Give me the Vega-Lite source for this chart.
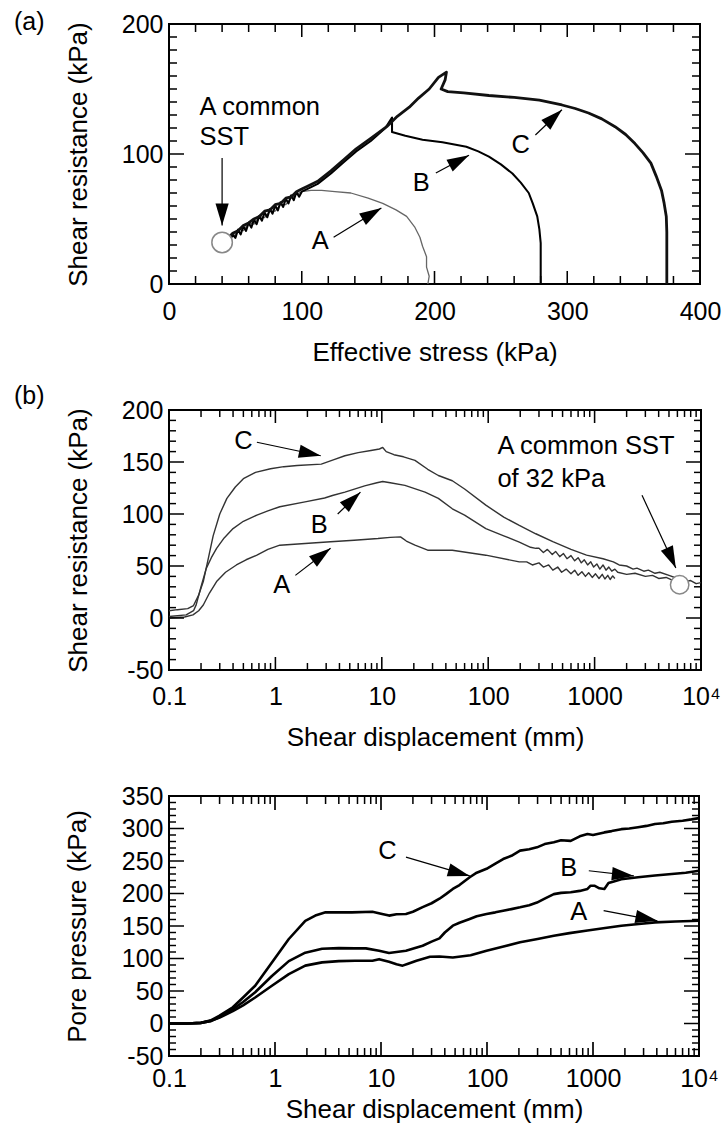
{
  "$schema": "https://vega.github.io/schema/vega-lite/v6.json",
  "background": "white",
  "padding": {"left": 13, "top": 8, "right": 5, "bottom": 5},
  "config": {
    "font": "Liberation Sans",
    "view": {"stroke": "#000", "strokeWidth": 2},
    "axis": {
      "domain": false, "grid": false, "ticks": false,
      "labelFont": "Liberation Sans", "labelFontSize": 25, "labelColor": "#000",
      "titleFont": "Liberation Sans", "titleFontSize": 26, "titleFontWeight": "normal", "titleColor": "#000",
      "labelOverlap": false, "labelFlush": false, "labelBound": false
    },
    "point": {"filled": true, "color": "#000", "opacity": 1, "strokeWidth": 0},
    "title": {"font": "Liberation Sans", "fontSize": 25, "fontWeight": "normal", "color": "#000", "anchor": "start", "frame": "group", "baseline": "alphabetic"},
    "text": {"font": "Liberation Sans", "fontSize": 25.5, "color": "#000"}
  },
  "datasets": {
    "aXMajor": [{"v": 0, "lo": 0, "hi": 200}, {"v": 100, "lo": 0, "hi": 200}, {"v": 200, "lo": 0, "hi": 200}, {"v": 300, "lo": 0, "hi": 200}, {"v": 400, "lo": 0, "hi": 200}],
    "aXMinor": [{"v": 20, "lo": 0, "hi": 200}, {"v": 40, "lo": 0, "hi": 200}, {"v": 60, "lo": 0, "hi": 200}, {"v": 80, "lo": 0, "hi": 200},
      {"v": 120, "lo": 0, "hi": 200}, {"v": 140, "lo": 0, "hi": 200}, {"v": 160, "lo": 0, "hi": 200}, {"v": 180, "lo": 0, "hi": 200},
      {"v": 220, "lo": 0, "hi": 200}, {"v": 240, "lo": 0, "hi": 200}, {"v": 260, "lo": 0, "hi": 200}, {"v": 280, "lo": 0, "hi": 200},
      {"v": 320, "lo": 0, "hi": 200}, {"v": 340, "lo": 0, "hi": 200}, {"v": 360, "lo": 0, "hi": 200}, {"v": 380, "lo": 0, "hi": 200}],
    "aYMajor": [{"v": 0, "lo": 0, "hi": 400}, {"v": 100, "lo": 0, "hi": 400}, {"v": 200, "lo": 0, "hi": 400}],
    "aYMinor": [{"v": 10, "lo": 0, "hi": 400}, {"v": 20, "lo": 0, "hi": 400}, {"v": 30, "lo": 0, "hi": 400}, {"v": 40, "lo": 0, "hi": 400},
      {"v": 50, "lo": 0, "hi": 400}, {"v": 60, "lo": 0, "hi": 400}, {"v": 70, "lo": 0, "hi": 400}, {"v": 80, "lo": 0, "hi": 400},
      {"v": 90, "lo": 0, "hi": 400}, {"v": 110, "lo": 0, "hi": 400}, {"v": 120, "lo": 0, "hi": 400}, {"v": 130, "lo": 0, "hi": 400},
      {"v": 140, "lo": 0, "hi": 400}, {"v": 150, "lo": 0, "hi": 400}, {"v": 160, "lo": 0, "hi": 400}, {"v": 170, "lo": 0, "hi": 400},
      {"v": 180, "lo": 0, "hi": 400}, {"v": 190, "lo": 0, "hi": 400}],
    "logMajor": [{"v": 0.1}, {"v": 1}, {"v": 10}, {"v": 100}, {"v": 1000}, {"v": 10000}],
    "logMinor": [{"v": 0.2}, {"v": 0.3}, {"v": 0.4}, {"v": 0.5}, {"v": 0.6}, {"v": 0.7}, {"v": 0.8}, {"v": 0.9},
      {"v": 2}, {"v": 3}, {"v": 4}, {"v": 5}, {"v": 6}, {"v": 7}, {"v": 8}, {"v": 9},
      {"v": 20}, {"v": 30}, {"v": 40}, {"v": 50}, {"v": 60}, {"v": 70}, {"v": 80}, {"v": 90},
      {"v": 200}, {"v": 300}, {"v": 400}, {"v": 500}, {"v": 600}, {"v": 700}, {"v": 800}, {"v": 900},
      {"v": 2000}, {"v": 3000}, {"v": 4000}, {"v": 5000}, {"v": 6000}, {"v": 7000}, {"v": 8000}, {"v": 9000}],
    "bYMajor": [{"v": -50}, {"v": 0}, {"v": 50}, {"v": 100}, {"v": 150}, {"v": 200}],
    "bYMinor": [{"v": -40}, {"v": -30}, {"v": -20}, {"v": -10}, {"v": 10}, {"v": 20}, {"v": 30}, {"v": 40}, {"v": 60}, {"v": 70}, {"v": 80}, {"v": 90}, {"v": 110}, {"v": 120}, {"v": 130}, {"v": 140}, {"v": 160}, {"v": 170}, {"v": 180}, {"v": 190}],
    "cYMajor": [{"v": -50}, {"v": 0}, {"v": 50}, {"v": 100}, {"v": 150}, {"v": 200}, {"v": 250}, {"v": 300}, {"v": 350}],
    "cYMinor": [{"v": -40}, {"v": -30}, {"v": -20}, {"v": -10}, {"v": 10}, {"v": 20}, {"v": 30}, {"v": 40}, {"v": 60}, {"v": 70}, {"v": 80}, {"v": 90}, {"v": 110}, {"v": 120}, {"v": 130}, {"v": 140}, {"v": 160}, {"v": 170}, {"v": 180}, {"v": 190}, {"v": 210}, {"v": 220}, {"v": 230}, {"v": 240}, {"v": 260}, {"v": 270}, {"v": 280}, {"v": 290}, {"v": 310}, {"v": 320}, {"v": 330}, {"v": 340}],
    "stressPath": [
      {"c": "A", "x": 195, "y": 0}, {"c": "A", "x": 196, "y": 6}, {"c": "A", "x": 194, "y": 13}, {"c": "A", "x": 194, "y": 21},
      {"c": "A", "x": 191, "y": 29}, {"c": "A", "x": 189, "y": 36}, {"c": "A", "x": 185, "y": 44}, {"c": "A", "x": 179, "y": 52},
      {"c": "A", "x": 171, "y": 57}, {"c": "A", "x": 161, "y": 62}, {"c": "A", "x": 150, "y": 66}, {"c": "A", "x": 137, "y": 70},
      {"c": "A", "x": 125, "y": 71}, {"c": "A", "x": 115, "y": 72}, {"c": "A", "x": 107, "y": 72}, {"c": "A", "x": 100, "y": 71},
      {"c": "A", "x": 96, "y": 69}, {"c": "A", "x": 92, "y": 66}, {"c": "A", "x": 88, "y": 61}, {"c": "A", "x": 84, "y": 61},
      {"c": "A", "x": 80, "y": 56}, {"c": "A", "x": 76, "y": 56}, {"c": "A", "x": 72, "y": 51}, {"c": "A", "x": 68, "y": 52},
      {"c": "A", "x": 64, "y": 46}, {"c": "A", "x": 60, "y": 47}, {"c": "A", "x": 56, "y": 41}, {"c": "A", "x": 53, "y": 42},
      {"c": "A", "x": 49, "y": 37}, {"c": "A", "x": 47, "y": 36},

      {"c": "B", "x": 280, "y": 0}, {"c": "B", "x": 280, "y": 10}, {"c": "B", "x": 280, "y": 20}, {"c": "B", "x": 280, "y": 31.5},
      {"c": "B", "x": 279, "y": 42}, {"c": "B", "x": 277.4, "y": 52}, {"c": "B", "x": 274, "y": 62}, {"c": "B", "x": 271, "y": 70},
      {"c": "B", "x": 265, "y": 78}, {"c": "B", "x": 258.7, "y": 85}, {"c": "B", "x": 250, "y": 92}, {"c": "B", "x": 241, "y": 98},
      {"c": "B", "x": 233, "y": 102}, {"c": "B", "x": 224, "y": 105.6}, {"c": "B", "x": 206, "y": 109}, {"c": "B", "x": 191, "y": 111},
      {"c": "B", "x": 178, "y": 114}, {"c": "B", "x": 168, "y": 117}, {"c": "B", "x": 168, "y": 128}, {"c": "B", "x": 163, "y": 120},
      {"c": "B", "x": 152, "y": 110}, {"c": "B", "x": 141, "y": 102}, {"c": "B", "x": 132, "y": 94}, {"c": "B", "x": 122, "y": 85},
      {"c": "B", "x": 112, "y": 77}, {"c": "B", "x": 104, "y": 73}, {"c": "B", "x": 100, "y": 71},
      {"c": "B", "x": 98, "y": 67.2}, {"c": "B", "x": 96, "y": 70.8}, {"c": "B", "x": 94, "y": 64.5}, {"c": "B", "x": 92, "y": 68.2},
      {"c": "B", "x": 90, "y": 61.9}, {"c": "B", "x": 88, "y": 65.6}, {"c": "B", "x": 86, "y": 59.2}, {"c": "B", "x": 84, "y": 62.9},
      {"c": "B", "x": 82, "y": 56.6}, {"c": "B", "x": 80, "y": 60.3}, {"c": "B", "x": 78, "y": 54}, {"c": "B", "x": 76, "y": 57.6},
      {"c": "B", "x": 74, "y": 51.3}, {"c": "B", "x": 72, "y": 55}, {"c": "B", "x": 70, "y": 48.7}, {"c": "B", "x": 68, "y": 52.4},
      {"c": "B", "x": 66, "y": 46}, {"c": "B", "x": 64, "y": 49.7}, {"c": "B", "x": 62, "y": 43.4}, {"c": "B", "x": 60, "y": 47.1},
      {"c": "B", "x": 58, "y": 40.8}, {"c": "B", "x": 56, "y": 44.4}, {"c": "B", "x": 54, "y": 38.1}, {"c": "B", "x": 52, "y": 41.8},
      {"c": "B", "x": 50, "y": 35.5}, {"c": "B", "x": 48, "y": 38}, {"c": "B", "x": 46, "y": 34},

      {"c": "C", "x": 375, "y": 0}, {"c": "C", "x": 375, "y": 14}, {"c": "C", "x": 375, "y": 26}, {"c": "C", "x": 375, "y": 40},
      {"c": "C", "x": 374.6, "y": 52}, {"c": "C", "x": 373, "y": 62}, {"c": "C", "x": 371, "y": 72}, {"c": "C", "x": 367, "y": 83},
      {"c": "C", "x": 363, "y": 93}, {"c": "C", "x": 357, "y": 101}, {"c": "C", "x": 351, "y": 108}, {"c": "C", "x": 344, "y": 115},
      {"c": "C", "x": 336, "y": 121}, {"c": "C", "x": 326, "y": 127}, {"c": "C", "x": 316, "y": 131.5}, {"c": "C", "x": 306, "y": 135},
      {"c": "C", "x": 296, "y": 137.7}, {"c": "C", "x": 279, "y": 141.5}, {"c": "C", "x": 260, "y": 143.5}, {"c": "C", "x": 241, "y": 145},
      {"c": "C", "x": 222, "y": 147}, {"c": "C", "x": 210, "y": 148}, {"c": "C", "x": 205, "y": 150}, {"c": "C", "x": 208, "y": 157},
      {"c": "C", "x": 209, "y": 163}, {"c": "C", "x": 203, "y": 159}, {"c": "C", "x": 196, "y": 150}, {"c": "C", "x": 188, "y": 143},
      {"c": "C", "x": 181, "y": 136}, {"c": "C", "x": 172, "y": 129}, {"c": "C", "x": 164, "y": 121}, {"c": "C", "x": 152, "y": 112},
      {"c": "C", "x": 141, "y": 104}, {"c": "C", "x": 132, "y": 96}, {"c": "C", "x": 122, "y": 87}, {"c": "C", "x": 112, "y": 79},
      {"c": "C", "x": 104, "y": 75}, {"c": "C", "x": 100, "y": 73}, {"c": "C", "x": 96, "y": 71}, {"c": "C", "x": 92, "y": 67},
      {"c": "C", "x": 88, "y": 66}, {"c": "C", "x": 84, "y": 62}, {"c": "C", "x": 80, "y": 61}, {"c": "C", "x": 76, "y": 57},
      {"c": "C", "x": 72, "y": 56}, {"c": "C", "x": 68, "y": 52}, {"c": "C", "x": 64, "y": 50}, {"c": "C", "x": 60, "y": 47},
      {"c": "C", "x": 56, "y": 45}, {"c": "C", "x": 52, "y": 41}, {"c": "C", "x": 48, "y": 39}, {"c": "C", "x": 46, "y": 37}
    ],
    "arrowsA": [
      {"k": "A", "x0": 124, "y0": 36, "x1": 160, "y1": 58.5},
      {"k": "B", "x0": 201, "y0": 85.4, "x1": 226, "y1": 99},
      {"k": "C", "x0": 276, "y0": 114.6, "x1": 296, "y1": 134},
      {"k": "S", "x0": 40, "y0": 97, "x1": 40, "y1": 45}
    ],
    "resistance": [
      {"c": "C", "d": 0.1, "v": 7}, {"c": "C", "d": 0.12, "v": 8}, {"c": "C", "d": 0.15, "v": 9}, {"c": "C", "d": 0.17, "v": 12},
      {"c": "C", "d": 0.19, "v": 22}, {"c": "C", "d": 0.21, "v": 35}, {"c": "C", "d": 0.235, "v": 58}, {"c": "C", "d": 0.26, "v": 79},
      {"c": "C", "d": 0.3, "v": 100}, {"c": "C", "d": 0.35, "v": 115}, {"c": "C", "d": 0.42, "v": 126}, {"c": "C", "d": 0.5, "v": 134},
      {"c": "C", "d": 0.65, "v": 140}, {"c": "C", "d": 0.9, "v": 143.5}, {"c": "C", "d": 1.2, "v": 145.5}, {"c": "C", "d": 1.6, "v": 146.7},
      {"c": "C", "d": 2.7, "v": 148}, {"c": "C", "d": 3.5, "v": 152}, {"c": "C", "d": 4.5, "v": 156}, {"c": "C", "d": 6, "v": 159},
      {"c": "C", "d": 7.9, "v": 161}, {"c": "C", "d": 9.5, "v": 162.5}, {"c": "C", "d": 10.2, "v": 164}, {"c": "C", "d": 11, "v": 160},
      {"c": "C", "d": 13, "v": 157}, {"c": "C", "d": 16, "v": 155}, {"c": "C", "d": 20.5, "v": 151.5}, {"c": "C", "d": 27, "v": 143},
      {"c": "C", "d": 34, "v": 137}, {"c": "C", "d": 46, "v": 132}, {"c": "C", "d": 60, "v": 124}, {"c": "C", "d": 95, "v": 108.5},
      {"c": "C", "d": 140, "v": 97}, {"c": "C", "d": 196, "v": 89}, {"c": "C", "d": 280, "v": 81}, {"c": "C", "d": 405, "v": 73.5},
      {"c": "C", "d": 600, "v": 66}, {"c": "C", "d": 840, "v": 60.5}, {"c": "C", "d": 1200, "v": 57}, {"c": "C", "d": 1500, "v": 54},
      {"c": "C", "d": 1700, "v": 51}, {"c": "C", "d": 2000, "v": 50}, {"c": "C", "d": 2300, "v": 47}, {"c": "C", "d": 2500, "v": 48},
      {"c": "C", "d": 2900, "v": 45}, {"c": "C", "d": 3200, "v": 46}, {"c": "C", "d": 3700, "v": 43}, {"c": "C", "d": 4100, "v": 44},
      {"c": "C", "d": 5000, "v": 41}, {"c": "C", "d": 6000, "v": 38}, {"c": "C", "d": 7000, "v": 35}, {"c": "C", "d": 8000, "v": 36},
      {"c": "C", "d": 9000, "v": 33}, {"c": "C", "d": 10000, "v": 34},

      {"c": "B", "d": 0.1, "v": 1.5}, {"c": "B", "d": 0.145, "v": 3}, {"c": "B", "d": 0.17, "v": 7}, {"c": "B", "d": 0.18, "v": 12.6},
      {"c": "B", "d": 0.2, "v": 30}, {"c": "B", "d": 0.224, "v": 47.7}, {"c": "B", "d": 0.25, "v": 58}, {"c": "B", "d": 0.28, "v": 67},
      {"c": "B", "d": 0.33, "v": 77}, {"c": "B", "d": 0.4, "v": 86}, {"c": "B", "d": 0.5, "v": 93}, {"c": "B", "d": 0.67, "v": 99},
      {"c": "B", "d": 0.85, "v": 103}, {"c": "B", "d": 1.1, "v": 107}, {"c": "B", "d": 1.9, "v": 111.6}, {"c": "B", "d": 2.9, "v": 115.4},
      {"c": "B", "d": 3.5, "v": 118}, {"c": "B", "d": 4.5, "v": 121}, {"c": "B", "d": 6.9, "v": 127}, {"c": "B", "d": 9, "v": 130},
      {"c": "B", "d": 10.2, "v": 131.3}, {"c": "B", "d": 12, "v": 130}, {"c": "B", "d": 16.5, "v": 127.5}, {"c": "B", "d": 25.5, "v": 121},
      {"c": "B", "d": 34, "v": 115}, {"c": "B", "d": 46, "v": 105}, {"c": "B", "d": 60, "v": 99}, {"c": "B", "d": 95, "v": 86},
      {"c": "B", "d": 140, "v": 79}, {"c": "B", "d": 196, "v": 73}, {"c": "B", "d": 250, "v": 68}, {"c": "B", "d": 280, "v": 67},
      {"c": "B", "d": 300, "v": 67}, {"c": "B", "d": 330, "v": 63}, {"c": "B", "d": 360, "v": 66}, {"c": "B", "d": 400, "v": 61},
      {"c": "B", "d": 430, "v": 64}, {"c": "B", "d": 470, "v": 59}, {"c": "B", "d": 510, "v": 62}, {"c": "B", "d": 550, "v": 57},
      {"c": "B", "d": 600, "v": 60}, {"c": "B", "d": 650, "v": 55}, {"c": "B", "d": 700, "v": 58}, {"c": "B", "d": 750, "v": 53},
      {"c": "B", "d": 800, "v": 56}, {"c": "B", "d": 860, "v": 51}, {"c": "B", "d": 920, "v": 54}, {"c": "B", "d": 980, "v": 49},
      {"c": "B", "d": 1050, "v": 52}, {"c": "B", "d": 1120, "v": 47}, {"c": "B", "d": 1200, "v": 51}, {"c": "B", "d": 1280, "v": 46},
      {"c": "B", "d": 1360, "v": 49}, {"c": "B", "d": 1450, "v": 45}, {"c": "B", "d": 1550, "v": 47}, {"c": "B", "d": 1650, "v": 44},
      {"c": "B", "d": 2000, "v": 42}, {"c": "B", "d": 2400, "v": 43}, {"c": "B", "d": 3000, "v": 40}, {"c": "B", "d": 3500, "v": 41},
      {"c": "B", "d": 4000, "v": 38}, {"c": "B", "d": 4700, "v": 39}, {"c": "B", "d": 5500, "v": 36},

      {"c": "A", "d": 0.1, "v": 0}, {"c": "A", "d": 0.14, "v": 1}, {"c": "A", "d": 0.168, "v": 3}, {"c": "A", "d": 0.19, "v": 7},
      {"c": "A", "d": 0.21, "v": 12.5}, {"c": "A", "d": 0.24, "v": 24}, {"c": "A", "d": 0.28, "v": 35}, {"c": "A", "d": 0.34, "v": 44},
      {"c": "A", "d": 0.43, "v": 51}, {"c": "A", "d": 0.53, "v": 56}, {"c": "A", "d": 0.67, "v": 60.4}, {"c": "A", "d": 0.85, "v": 66},
      {"c": "A", "d": 1.1, "v": 70}, {"c": "A", "d": 1.9, "v": 71.6}, {"c": "A", "d": 3.3, "v": 73.3}, {"c": "A", "d": 5.5, "v": 74.8},
      {"c": "A", "d": 9.2, "v": 76.4}, {"c": "A", "d": 12, "v": 77.5}, {"c": "A", "d": 15, "v": 78}, {"c": "A", "d": 17, "v": 74},
      {"c": "A", "d": 20.5, "v": 70}, {"c": "A", "d": 27, "v": 65.2}, {"c": "A", "d": 46, "v": 65.2}, {"c": "A", "d": 95, "v": 60.4},
      {"c": "A", "d": 196, "v": 54}, {"c": "A", "d": 230, "v": 54}, {"c": "A", "d": 260, "v": 51}, {"c": "A", "d": 300, "v": 53},
      {"c": "A", "d": 330, "v": 49}, {"c": "A", "d": 370, "v": 51}, {"c": "A", "d": 405, "v": 46}, {"c": "A", "d": 450, "v": 49},
      {"c": "A", "d": 490, "v": 44}, {"c": "A", "d": 540, "v": 47}, {"c": "A", "d": 600, "v": 42.5}, {"c": "A", "d": 650, "v": 46},
      {"c": "A", "d": 700, "v": 41}, {"c": "A", "d": 760, "v": 44.5}, {"c": "A", "d": 820, "v": 40}, {"c": "A", "d": 880, "v": 43.5},
      {"c": "A", "d": 950, "v": 39}, {"c": "A", "d": 1020, "v": 42.5}, {"c": "A", "d": 1100, "v": 38}, {"c": "A", "d": 1180, "v": 42},
      {"c": "A", "d": 1250, "v": 37.5}, {"c": "A", "d": 1330, "v": 41}, {"c": "A", "d": 1400, "v": 37}, {"c": "A", "d": 1480, "v": 40.5},
      {"c": "A", "d": 1550, "v": 38}
    ],
    "arrowsB": [
      {"k": "C", "x0": 0.67, "y0": 169, "x1": 2.67, "y1": 156},
      {"k": "B", "x0": 3.85, "y0": 100, "x1": 6.3, "y1": 121},
      {"k": "A", "x0": 1.54, "y0": 41, "x1": 3.3, "y1": 67},
      {"k": "S", "x0": 2790, "y0": 118, "x1": 5800, "y1": 48}
    ],
    "pore": [
      {"c": "C", "d": 0.1, "p": 0}, {"c": "C", "d": 0.15, "p": 0}, {"c": "C", "d": 0.2, "p": 1}, {"c": "C", "d": 0.25, "p": 5},
      {"c": "C", "d": 0.3, "p": 12}, {"c": "C", "d": 0.4, "p": 25}, {"c": "C", "d": 0.5, "p": 40}, {"c": "C", "d": 0.65, "p": 58},
      {"c": "C", "d": 0.935, "p": 94}, {"c": "C", "d": 1.35, "p": 130}, {"c": "C", "d": 1.93, "p": 158}, {"c": "C", "d": 2.4, "p": 166},
      {"c": "C", "d": 3, "p": 171}, {"c": "C", "d": 4, "p": 171}, {"c": "C", "d": 5.3, "p": 171}, {"c": "C", "d": 8.3, "p": 172},
      {"c": "C", "d": 10, "p": 169}, {"c": "C", "d": 11.9, "p": 166}, {"c": "C", "d": 14, "p": 168}, {"c": "C", "d": 17.2, "p": 168.5},
      {"c": "C", "d": 20, "p": 172}, {"c": "C", "d": 24.7, "p": 179}, {"c": "C", "d": 30, "p": 185}, {"c": "C", "d": 35.6, "p": 192},
      {"c": "C", "d": 41, "p": 199}, {"c": "C", "d": 47.6, "p": 207}, {"c": "C", "d": 55, "p": 213}, {"c": "C", "d": 68.7, "p": 225},
      {"c": "C", "d": 80, "p": 232}, {"c": "C", "d": 99, "p": 238}, {"c": "C", "d": 120, "p": 246}, {"c": "C", "d": 142, "p": 253},
      {"c": "C", "d": 170, "p": 258}, {"c": "C", "d": 205, "p": 266}, {"c": "C", "d": 250, "p": 268}, {"c": "C", "d": 296, "p": 271},
      {"c": "C", "d": 350, "p": 276}, {"c": "C", "d": 427, "p": 279}, {"c": "C", "d": 500, "p": 282}, {"c": "C", "d": 616, "p": 281},
      {"c": "C", "d": 750, "p": 288}, {"c": "C", "d": 887, "p": 291.5}, {"c": "C", "d": 1000, "p": 290}, {"c": "C", "d": 1280, "p": 294},
      {"c": "C", "d": 1500, "p": 296}, {"c": "C", "d": 1850, "p": 299}, {"c": "C", "d": 2200, "p": 300}, {"c": "C", "d": 2660, "p": 302},
      {"c": "C", "d": 3200, "p": 304}, {"c": "C", "d": 3840, "p": 307}, {"c": "C", "d": 4600, "p": 308}, {"c": "C", "d": 5530, "p": 310.5},
      {"c": "C", "d": 7000, "p": 312}, {"c": "C", "d": 8500, "p": 314}, {"c": "C", "d": 10000, "p": 316},

      {"c": "B", "d": 0.1, "p": 0}, {"c": "B", "d": 0.15, "p": 0}, {"c": "B", "d": 0.2, "p": 1}, {"c": "B", "d": 0.25, "p": 4},
      {"c": "B", "d": 0.3, "p": 10}, {"c": "B", "d": 0.4, "p": 22}, {"c": "B", "d": 0.5, "p": 33}, {"c": "B", "d": 0.65, "p": 48},
      {"c": "B", "d": 0.935, "p": 73}, {"c": "B", "d": 1.35, "p": 96}, {"c": "B", "d": 1.93, "p": 109}, {"c": "B", "d": 2.78, "p": 115},
      {"c": "B", "d": 4, "p": 116}, {"c": "B", "d": 5.7, "p": 115.6}, {"c": "B", "d": 7.2, "p": 115.6}, {"c": "B", "d": 9.6, "p": 112},
      {"c": "B", "d": 11.9, "p": 108.5}, {"c": "B", "d": 14, "p": 110}, {"c": "B", "d": 17.2, "p": 112}, {"c": "B", "d": 24.7, "p": 119.7},
      {"c": "B", "d": 30, "p": 126}, {"c": "B", "d": 35.6, "p": 131}, {"c": "B", "d": 40, "p": 140}, {"c": "B", "d": 47.6, "p": 150.5},
      {"c": "B", "d": 55, "p": 155}, {"c": "B", "d": 68.7, "p": 160.8}, {"c": "B", "d": 80, "p": 165}, {"c": "B", "d": 99, "p": 168.5},
      {"c": "B", "d": 120, "p": 171}, {"c": "B", "d": 142, "p": 173.6}, {"c": "B", "d": 170, "p": 176}, {"c": "B", "d": 205, "p": 178.7},
      {"c": "B", "d": 250, "p": 182}, {"c": "B", "d": 296, "p": 186}, {"c": "B", "d": 350, "p": 192}, {"c": "B", "d": 427, "p": 199},
      {"c": "B", "d": 500, "p": 201}, {"c": "B", "d": 616, "p": 202}, {"c": "B", "d": 750, "p": 204}, {"c": "B", "d": 887, "p": 207},
      {"c": "B", "d": 950, "p": 212}, {"c": "B", "d": 1030, "p": 212}, {"c": "B", "d": 1150, "p": 208}, {"c": "B", "d": 1280, "p": 207},
      {"c": "B", "d": 1400, "p": 216}, {"c": "B", "d": 1600, "p": 219}, {"c": "B", "d": 1850, "p": 222}, {"c": "B", "d": 2660, "p": 225},
      {"c": "B", "d": 3840, "p": 227.6}, {"c": "B", "d": 5530, "p": 230}, {"c": "B", "d": 7500, "p": 232}, {"c": "B", "d": 10000, "p": 235},

      {"c": "A", "d": 0.1, "p": 0}, {"c": "A", "d": 0.15, "p": 0}, {"c": "A", "d": 0.2, "p": 1}, {"c": "A", "d": 0.25, "p": 4},
      {"c": "A", "d": 0.3, "p": 9}, {"c": "A", "d": 0.4, "p": 19}, {"c": "A", "d": 0.5, "p": 28}, {"c": "A", "d": 0.65, "p": 40},
      {"c": "A", "d": 0.935, "p": 58}, {"c": "A", "d": 1.35, "p": 76}, {"c": "A", "d": 1.93, "p": 89}, {"c": "A", "d": 2.78, "p": 94},
      {"c": "A", "d": 4, "p": 96}, {"c": "A", "d": 5.7, "p": 96.6}, {"c": "A", "d": 8.3, "p": 96.6}, {"c": "A", "d": 9.6, "p": 99},
      {"c": "A", "d": 11.9, "p": 95}, {"c": "A", "d": 14, "p": 91}, {"c": "A", "d": 16, "p": 89}, {"c": "A", "d": 18, "p": 92},
      {"c": "A", "d": 21.6, "p": 96.6}, {"c": "A", "d": 29, "p": 102.7}, {"c": "A", "d": 35.6, "p": 103}, {"c": "A", "d": 47.6, "p": 101.6},
      {"c": "A", "d": 70, "p": 105}, {"c": "A", "d": 99, "p": 112}, {"c": "A", "d": 140, "p": 118}, {"c": "A", "d": 205, "p": 125},
      {"c": "A", "d": 300, "p": 130}, {"c": "A", "d": 427, "p": 135}, {"c": "A", "d": 600, "p": 139}, {"c": "A", "d": 887, "p": 143},
      {"c": "A", "d": 1300, "p": 147}, {"c": "A", "d": 1850, "p": 150.5}, {"c": "A", "d": 2700, "p": 153}, {"c": "A", "d": 3840, "p": 155.6},
      {"c": "A", "d": 6000, "p": 157}, {"c": "A", "d": 10000, "p": 158}
    ],
    "arrowsC": [
      {"k": "C", "x0": 17.2, "y0": 256, "x1": 68.7, "y1": 227},
      {"k": "B", "x0": 913, "y0": 235, "x1": 2430, "y1": 227},
      {"k": "A", "x0": 1260, "y0": 173.6, "x1": 4050, "y1": 158}
    ]
  },
  "spacing": 126,
  "bounds": "flush",
  "vconcat": [
    {
      "width": 531,
      "height": 260,
      "title": {"text": "(a)", "dx": -155, "offset": -22.5},
      "resolve": {"axis": {"x": "independent", "y": "independent"}},
      "layer": [
        {
          "data": {"name": "stressPath"},
          "mark": {"type": "line", "strokeJoin": "round"},
          "encoding": {
            "x": {"field": "x", "type": "quantitative", "scale": {"domain": [0, 400], "nice": false},
              "axis": {"orient": "bottom", "title": "Effective stress (kPa)", "values": [0, 100, 200, 300, 400], "labelOverlap": false, "labelPadding": 15, "titlePadding": 15}},
            "y": {"field": "y", "type": "quantitative", "scale": {"domain": [0, 200], "nice": false},
              "axis": {"orient": "left", "title": "Shear resistance (kPa)", "values": [0, 100, 200], "labelOverlap": false, "labelPadding": 6, "titlePadding": 30}},
            "color": {"field": "c", "type": "nominal", "scale": {"domain": ["A", "B", "C"], "range": ["#666", "#000", "#111"]}, "legend": null},
            "strokeWidth": {"field": "c", "type": "nominal", "scale": {"domain": ["A", "B", "C"], "range": [1.3, 2.8, 2.2]}, "legend": null},
            "order": {"value": null}
          }
        },
        {"data": {"name": "aXMajor"}, "mark": {"type": "point", "shape": "M-0.12,0L0.12,0L0.12,-2L-0.12,-2Z", "size": 169},
          "encoding": {"x": {"field": "v", "type": "quantitative", "axis": null}, "y": {"field": "lo", "type": "quantitative", "axis": null}}},
        {"data": {"name": "aXMajor"}, "mark": {"type": "point", "shape": "M-0.12,0L0.12,0L0.12,2L-0.12,2Z", "size": 169},
          "encoding": {"x": {"field": "v", "type": "quantitative", "axis": null}, "y": {"field": "hi", "type": "quantitative", "axis": null}}},
        {"data": {"name": "aXMinor"}, "mark": {"type": "point", "shape": "M-0.19,0L0.19,0L0.19,-2L-0.19,-2Z", "size": 64},
          "encoding": {"x": {"field": "v", "type": "quantitative", "axis": null}, "y": {"field": "lo", "type": "quantitative", "axis": null}}},
        {"data": {"name": "aXMinor"}, "mark": {"type": "point", "shape": "M-0.19,0L0.19,0L0.19,2L-0.19,2Z", "size": 64},
          "encoding": {"x": {"field": "v", "type": "quantitative", "axis": null}, "y": {"field": "hi", "type": "quantitative", "axis": null}}},
        {"data": {"name": "aYMajor"}, "mark": {"type": "point", "shape": "M0,-0.1L2,-0.1L2,0.1L0,0.1Z", "size": 225},
          "encoding": {"y": {"field": "v", "type": "quantitative", "axis": null}, "x": {"field": "lo", "type": "quantitative", "axis": null}}},
        {"data": {"name": "aYMajor"}, "mark": {"type": "point", "shape": "M0,-0.1L-2,-0.1L-2,0.1L0,0.1Z", "size": 225},
          "encoding": {"y": {"field": "v", "type": "quantitative", "axis": null}, "x": {"field": "hi", "type": "quantitative", "axis": null}}},
        {"data": {"name": "aYMinor"}, "mark": {"type": "point", "shape": "M0,-0.19L2,-0.19L2,0.19L0,0.19Z", "size": 64},
          "encoding": {"y": {"field": "v", "type": "quantitative", "axis": null}, "x": {"field": "lo", "type": "quantitative", "axis": null}}},
        {"data": {"name": "aYMinor"}, "mark": {"type": "point", "shape": "M0,-0.19L-2,-0.19L-2,0.19L0,0.19Z", "size": 64},
          "encoding": {"y": {"field": "v", "type": "quantitative", "axis": null}, "x": {"field": "hi", "type": "quantitative", "axis": null}}},
        {
          "data": {"name": "arrowsA"},
          "mark": {"type": "rule", "color": "#000", "strokeWidth": 1.2},
          "encoding": {"x": {"field": "x0", "type": "quantitative", "axis": null}, "y": {"field": "y0", "type": "quantitative", "axis": null}, "x2": {"field": "x1"}, "y2": {"field": "y1"}}
        },
        {
          "data": {"name": "arrowsA"},
          "transform": [{"filter": "datum.k == 'A'"}],
          "mark": {"type": "point", "shape": "M0,0L0.6,2L-0.6,2Z", "size": 484, "angle": 59},
          "encoding": {"x": {"field": "x1", "type": "quantitative", "axis": null}, "y": {"field": "y1", "type": "quantitative", "axis": null}}
        },
        {
          "data": {"name": "arrowsA"},
          "transform": [{"filter": "datum.k == 'B'"}],
          "mark": {"type": "point", "shape": "M0,0L0.6,2L-0.6,2Z", "size": 484, "angle": 62},
          "encoding": {"x": {"field": "x1", "type": "quantitative", "axis": null}, "y": {"field": "y1", "type": "quantitative", "axis": null}}
        },
        {
          "data": {"name": "arrowsA"},
          "transform": [{"filter": "datum.k == 'C'"}],
          "mark": {"type": "point", "shape": "M0,0L0.6,2L-0.6,2Z", "size": 484, "angle": 47},
          "encoding": {"x": {"field": "x1", "type": "quantitative", "axis": null}, "y": {"field": "y1", "type": "quantitative", "axis": null}}
        },
        {
          "data": {"name": "arrowsA"},
          "transform": [{"filter": "datum.k == 'S'"}],
          "mark": {"type": "point", "shape": "M0,0L0.6,2L-0.6,2Z", "size": 484, "angle": 180},
          "encoding": {"x": {"field": "x1", "type": "quantitative", "axis": null}, "y": {"field": "y1", "type": "quantitative", "axis": null}}
        },
        {
          "data": {"values": [{"x": 40, "y": 32}]},
          "mark": {"type": "point", "shape": "circle", "filled": true, "fill": "white", "stroke": "#888", "strokeWidth": 1.5, "opacity": 1, "size": 420},
          "encoding": {"x": {"field": "x", "type": "quantitative", "axis": null}, "y": {"field": "y", "type": "quantitative", "axis": null}}
        },
        {
          "data": {"values": [{"t": "A", "x": 114, "y": 33}, {"t": "B", "x": 190, "y": 78}, {"t": "C", "x": 265, "y": 107}]},
          "mark": {"type": "text", "align": "center", "baseline": "middle"},
          "encoding": {"x": {"field": "x", "type": "quantitative", "axis": null}, "y": {"field": "y", "type": "quantitative", "axis": null}, "text": {"field": "t"}}
        },
        {
          "data": {"values": [{"t": "A common", "x": 23, "y": 136.5}, {"t": "SST", "x": 23, "y": 113}]},
          "mark": {"type": "text", "align": "left", "baseline": "middle"},
          "encoding": {"x": {"field": "x", "type": "quantitative", "axis": null}, "y": {"field": "y", "type": "quantitative", "axis": null}, "text": {"field": "t"}}
        }
      ]
    },
    {
      "width": 532,
      "height": 260,
      "title": {"text": "(b)", "dx": -155, "offset": -10.5},
      "resolve": {"axis": {"x": "independent", "y": "independent"}},
      "layer": [
        {
          "data": {"name": "resistance"},
          "mark": {"type": "line", "strokeJoin": "round", "strokeWidth": 1.4, "color": "#333"},
          "encoding": {
            "x": {"field": "d", "type": "quantitative", "scale": {"type": "log", "domain": [0.1, 10000], "nice": false},
              "axis": {"orient": "bottom", "title": "Shear displacement (mm)", "values": [0.1, 1, 10, 100, 1000, 10000], "labelOverlap": false,
                "labelExpr": "datum.value == 0.1 ? '0.1' : datum.value == 1 ? '1' : datum.value == 10 ? '10' : datum.value == 100 ? '100' : datum.value == 1000 ? '1000' : '10⁴'",
                "labelPadding": 14, "titlePadding": 15}},
            "y": {"field": "v", "type": "quantitative", "scale": {"domain": [-50, 200], "nice": false},
              "axis": {"orient": "left", "title": "Shear resistance (kPa)", "values": [-50, 0, 50, 100, 150, 200], "labelOverlap": false,
                "labelExpr": "'' + datum.value", "labelPadding": 6, "titlePadding": 29.5}},
            "detail": {"field": "c", "type": "nominal"}
          }
        },
        {"data": {"name": "logMajor"}, "transform": [{"lookup": "v", "from": {"data": {"values": []}, "key": "v"}, "default": -50, "as": "edge"}],
          "mark": {"type": "point", "shape": "M-0.12,0L0.12,0L0.12,-2L-0.12,-2Z", "size": 169},
          "encoding": {"x": {"field": "v", "type": "quantitative", "axis": null}, "y": {"field": "edge", "type": "quantitative", "axis": null}}},
        {"data": {"name": "logMajor"}, "transform": [{"lookup": "v", "from": {"data": {"values": []}, "key": "v"}, "default": 200, "as": "edge"}],
          "mark": {"type": "point", "shape": "M-0.12,0L0.12,0L0.12,2L-0.12,2Z", "size": 169},
          "encoding": {"x": {"field": "v", "type": "quantitative", "axis": null}, "y": {"field": "edge", "type": "quantitative", "axis": null}}},
        {"data": {"name": "logMinor"}, "transform": [{"lookup": "v", "from": {"data": {"values": []}, "key": "v"}, "default": -50, "as": "edge"}],
          "mark": {"type": "point", "shape": "M-0.21,0L0.21,0L0.21,-2L-0.21,-2Z", "size": 49},
          "encoding": {"x": {"field": "v", "type": "quantitative", "axis": null}, "y": {"field": "edge", "type": "quantitative", "axis": null}}},
        {"data": {"name": "logMinor"}, "transform": [{"lookup": "v", "from": {"data": {"values": []}, "key": "v"}, "default": 200, "as": "edge"}],
          "mark": {"type": "point", "shape": "M-0.21,0L0.21,0L0.21,2L-0.21,2Z", "size": 49},
          "encoding": {"x": {"field": "v", "type": "quantitative", "axis": null}, "y": {"field": "edge", "type": "quantitative", "axis": null}}},
        {"data": {"name": "bYMajor"}, "transform": [{"lookup": "v", "from": {"data": {"values": []}, "key": "v"}, "default": 0.1, "as": "edge"}],
          "mark": {"type": "point", "shape": "M0,-0.1L2,-0.1L2,0.1L0,0.1Z", "size": 225},
          "encoding": {"y": {"field": "v", "type": "quantitative", "axis": null}, "x": {"field": "edge", "type": "quantitative", "axis": null}}},
        {"data": {"name": "bYMajor"}, "transform": [{"lookup": "v", "from": {"data": {"values": []}, "key": "v"}, "default": 10000, "as": "edge"}],
          "mark": {"type": "point", "shape": "M0,-0.1L-2,-0.1L-2,0.1L0,0.1Z", "size": 225},
          "encoding": {"y": {"field": "v", "type": "quantitative", "axis": null}, "x": {"field": "edge", "type": "quantitative", "axis": null}}},
        {"data": {"name": "bYMinor"}, "transform": [{"lookup": "v", "from": {"data": {"values": []}, "key": "v"}, "default": 0.1, "as": "edge"}],
          "mark": {"type": "point", "shape": "M0,-0.21L2,-0.21L2,0.21L0,0.21Z", "size": 49},
          "encoding": {"y": {"field": "v", "type": "quantitative", "axis": null}, "x": {"field": "edge", "type": "quantitative", "axis": null}}},
        {"data": {"name": "bYMinor"}, "transform": [{"lookup": "v", "from": {"data": {"values": []}, "key": "v"}, "default": 10000, "as": "edge"}],
          "mark": {"type": "point", "shape": "M0,-0.21L-2,-0.21L-2,0.21L0,0.21Z", "size": 49},
          "encoding": {"y": {"field": "v", "type": "quantitative", "axis": null}, "x": {"field": "edge", "type": "quantitative", "axis": null}}},
        {
          "data": {"name": "arrowsB"},
          "mark": {"type": "rule", "color": "#000", "strokeWidth": 1.2},
          "encoding": {"x": {"field": "x0", "type": "quantitative", "axis": null}, "y": {"field": "y0", "type": "quantitative", "axis": null}, "x2": {"field": "x1"}, "y2": {"field": "y1"}}
        },
        {
          "data": {"name": "arrowsB"},
          "transform": [{"filter": "datum.k == 'C'"}],
          "mark": {"type": "point", "shape": "M0,0L0.6,2L-0.6,2Z", "size": 484, "angle": 102},
          "encoding": {"x": {"field": "x1", "type": "quantitative", "axis": null}, "y": {"field": "y1", "type": "quantitative", "axis": null}}
        },
        {
          "data": {"name": "arrowsB"},
          "transform": [{"filter": "datum.k == 'B'"}],
          "mark": {"type": "point", "shape": "M0,0L0.6,2L-0.6,2Z", "size": 484, "angle": 47},
          "encoding": {"x": {"field": "x1", "type": "quantitative", "axis": null}, "y": {"field": "y1", "type": "quantitative", "axis": null}}
        },
        {
          "data": {"name": "arrowsB"},
          "transform": [{"filter": "datum.k == 'A'"}],
          "mark": {"type": "point", "shape": "M0,0L0.6,2L-0.6,2Z", "size": 484, "angle": 53},
          "encoding": {"x": {"field": "x1", "type": "quantitative", "axis": null}, "y": {"field": "y1", "type": "quantitative", "axis": null}}
        },
        {
          "data": {"name": "arrowsB"},
          "transform": [{"filter": "datum.k == 'S'"}],
          "mark": {"type": "point", "shape": "M0,0L0.6,2L-0.6,2Z", "size": 484, "angle": 156},
          "encoding": {"x": {"field": "x1", "type": "quantitative", "axis": null}, "y": {"field": "y1", "type": "quantitative", "axis": null}}
        },
        {
          "data": {"values": [{"d": 6300, "v": 32}]},
          "mark": {"type": "point", "shape": "circle", "filled": true, "fill": "white", "stroke": "#888", "strokeWidth": 1.5, "opacity": 1, "size": 340},
          "encoding": {"x": {"field": "d", "type": "quantitative", "axis": null}, "y": {"field": "v", "type": "quantitative", "axis": null}}
        },
        {
          "data": {"values": [{"t": "C", "d": 0.5, "v": 170.6}, {"t": "B", "d": 2.58, "v": 89}, {"t": "A", "d": 1.15, "v": 32}]},
          "mark": {"type": "text", "align": "center", "baseline": "middle"},
          "encoding": {"x": {"field": "d", "type": "quantitative", "axis": null}, "y": {"field": "v", "type": "quantitative", "axis": null}, "text": {"field": "t"}}
        },
        {
          "data": {"values": [{"t": "A common SST", "d": 122, "v": 165}, {"t": "of 32 kPa", "d": 122, "v": 134}]},
          "mark": {"type": "text", "align": "left", "baseline": "middle"},
          "encoding": {"x": {"field": "d", "type": "quantitative", "axis": null}, "y": {"field": "v", "type": "quantitative", "axis": null}, "text": {"field": "t"}}
        }
      ]
    },
    {
      "width": 530,
      "height": 260,
      "resolve": {"axis": {"x": "independent", "y": "independent"}},
      "layer": [
        {
          "data": {"name": "pore"},
          "mark": {"type": "line", "strokeJoin": "round", "strokeWidth": 2.6, "color": "#000"},
          "encoding": {
            "x": {"field": "d", "type": "quantitative", "scale": {"type": "log", "domain": [0.1, 10000], "nice": false},
              "axis": {"orient": "bottom", "title": "Shear displacement (mm)", "values": [0.1, 1, 10, 100, 1000, 10000], "labelOverlap": false,
                "labelExpr": "datum.value == 0.1 ? '0.1' : datum.value == 1 ? '1' : datum.value == 10 ? '10' : datum.value == 100 ? '100' : datum.value == 1000 ? '1000' : '10⁴'",
                "labelPadding": 10, "titlePadding": 5}},
            "y": {"field": "p", "type": "quantitative", "scale": {"domain": [-50, 350], "nice": false},
              "axis": {"orient": "left", "title": "Pore pressure (kPa)", "values": [-50, 0, 50, 100, 150, 200, 250, 300, 350], "labelOverlap": false,
                "labelExpr": "'' + datum.value", "labelPadding": 6, "titlePadding": 31}},
            "detail": {"field": "c", "type": "nominal"}
          }
        },
        {"data": {"name": "logMajor"}, "transform": [{"lookup": "v", "from": {"data": {"values": []}, "key": "v"}, "default": -50, "as": "edge"}],
          "mark": {"type": "point", "shape": "M-0.12,0L0.12,0L0.12,-2L-0.12,-2Z", "size": 196},
          "encoding": {"x": {"field": "v", "type": "quantitative", "axis": null}, "y": {"field": "edge", "type": "quantitative", "axis": null}}},
        {"data": {"name": "logMajor"}, "transform": [{"lookup": "v", "from": {"data": {"values": []}, "key": "v"}, "default": 350, "as": "edge"}],
          "mark": {"type": "point", "shape": "M-0.12,0L0.12,0L0.12,2L-0.12,2Z", "size": 196},
          "encoding": {"x": {"field": "v", "type": "quantitative", "axis": null}, "y": {"field": "edge", "type": "quantitative", "axis": null}}},
        {"data": {"name": "logMinor"}, "transform": [{"lookup": "v", "from": {"data": {"values": []}, "key": "v"}, "default": -50, "as": "edge"}],
          "mark": {"type": "point", "shape": "M-0.19,0L0.19,0L0.19,-2L-0.19,-2Z", "size": 64},
          "encoding": {"x": {"field": "v", "type": "quantitative", "axis": null}, "y": {"field": "edge", "type": "quantitative", "axis": null}}},
        {"data": {"name": "logMinor"}, "transform": [{"lookup": "v", "from": {"data": {"values": []}, "key": "v"}, "default": 350, "as": "edge"}],
          "mark": {"type": "point", "shape": "M-0.19,0L0.19,0L0.19,2L-0.19,2Z", "size": 64},
          "encoding": {"x": {"field": "v", "type": "quantitative", "axis": null}, "y": {"field": "edge", "type": "quantitative", "axis": null}}},
        {"data": {"name": "cYMajor"}, "transform": [{"lookup": "v", "from": {"data": {"values": []}, "key": "v"}, "default": 0.1, "as": "edge"}],
          "mark": {"type": "point", "shape": "M0,-0.1L2,-0.1L2,0.1L0,0.1Z", "size": 225},
          "encoding": {"y": {"field": "v", "type": "quantitative", "axis": null}, "x": {"field": "edge", "type": "quantitative", "axis": null}}},
        {"data": {"name": "cYMajor"}, "transform": [{"lookup": "v", "from": {"data": {"values": []}, "key": "v"}, "default": 10000, "as": "edge"}],
          "mark": {"type": "point", "shape": "M0,-0.1L-2,-0.1L-2,0.1L0,0.1Z", "size": 225},
          "encoding": {"y": {"field": "v", "type": "quantitative", "axis": null}, "x": {"field": "edge", "type": "quantitative", "axis": null}}},
        {"data": {"name": "cYMinor"}, "transform": [{"lookup": "v", "from": {"data": {"values": []}, "key": "v"}, "default": 0.1, "as": "edge"}],
          "mark": {"type": "point", "shape": "M0,-0.21L2,-0.21L2,0.21L0,0.21Z", "size": 49},
          "encoding": {"y": {"field": "v", "type": "quantitative", "axis": null}, "x": {"field": "edge", "type": "quantitative", "axis": null}}},
        {"data": {"name": "cYMinor"}, "transform": [{"lookup": "v", "from": {"data": {"values": []}, "key": "v"}, "default": 10000, "as": "edge"}],
          "mark": {"type": "point", "shape": "M0,-0.21L-2,-0.21L-2,0.21L0,0.21Z", "size": 49},
          "encoding": {"y": {"field": "v", "type": "quantitative", "axis": null}, "x": {"field": "edge", "type": "quantitative", "axis": null}}},
        {
          "data": {"name": "arrowsC"},
          "mark": {"type": "rule", "color": "#000", "strokeWidth": 1.2},
          "encoding": {"x": {"field": "x0", "type": "quantitative", "axis": null}, "y": {"field": "y0", "type": "quantitative", "axis": null}, "x2": {"field": "x1"}, "y2": {"field": "y1"}}
        },
        {
          "data": {"name": "arrowsC"},
          "transform": [{"filter": "datum.k == 'C'"}],
          "mark": {"type": "point", "shape": "M0,0L0.6,2L-0.6,2Z", "size": 484, "angle": 106},
          "encoding": {"x": {"field": "x1", "type": "quantitative", "axis": null}, "y": {"field": "y1", "type": "quantitative", "axis": null}}
        },
        {
          "data": {"name": "arrowsC"},
          "transform": [{"filter": "datum.k == 'B'"}],
          "mark": {"type": "point", "shape": "M0,0L0.6,2L-0.6,2Z", "size": 484, "angle": 96},
          "encoding": {"x": {"field": "x1", "type": "quantitative", "axis": null}, "y": {"field": "y1", "type": "quantitative", "axis": null}}
        },
        {
          "data": {"name": "arrowsC"},
          "transform": [{"filter": "datum.k == 'A'"}],
          "mark": {"type": "point", "shape": "M0,0L0.6,2L-0.6,2Z", "size": 484, "angle": 101},
          "encoding": {"x": {"field": "x1", "type": "quantitative", "axis": null}, "y": {"field": "y1", "type": "quantitative", "axis": null}}
        },
        {
          "data": {"values": [{"t": "C", "d": 11.5, "p": 266}, {"t": "B", "d": 589, "p": 240}, {"t": "A", "d": 733, "p": 171}]},
          "mark": {"type": "text", "align": "center", "baseline": "middle"},
          "encoding": {"x": {"field": "d", "type": "quantitative", "axis": null}, "y": {"field": "p", "type": "quantitative", "axis": null}, "text": {"field": "t"}}
        }
      ]
    }
  ]
}
